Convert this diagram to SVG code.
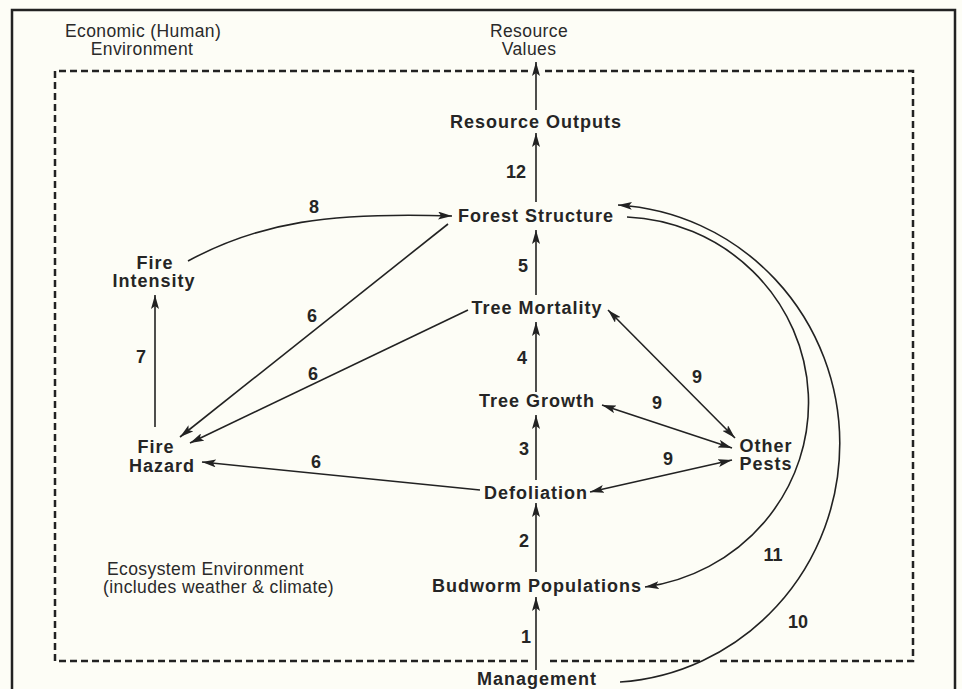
<svg xmlns="http://www.w3.org/2000/svg" width="962" height="689" viewBox="0 0 962 689">
<style>
.bg{fill:#fdfdf6}
.node{font-family:"Liberation Sans",Arial,sans-serif;font-size:18px;font-weight:bold;letter-spacing:1px;fill:#252525;text-anchor:middle}
.num{font-family:"Liberation Sans",Arial,sans-serif;font-size:18px;font-weight:bold;fill:#252525;text-anchor:middle}
.env{font-family:"Liberation Sans",Arial,sans-serif;font-size:17.5px;letter-spacing:0.4px;fill:#2a2a2a}
.mid{text-anchor:middle}
.frame{fill:none;stroke:#222;stroke-width:2.5}
.dash{fill:none;stroke:#222;stroke-width:2.5;stroke-dasharray:7 4}
.c{fill:none;stroke:#222;stroke-width:1.6}
.a{marker-end:url(#ah)}
.b{marker-start:url(#ah);marker-end:url(#ah)}
</style>
<defs>
<marker id="ah" markerUnits="userSpaceOnUse" markerWidth="15" markerHeight="8" refX="14" refY="4" orient="auto-start-reverse">
<path d="M0,0 L14,4 L0,8 L3,4 z" fill="#222"/>
</marker>
</defs>
<rect class="bg" x="0" y="0" width="962" height="689"/>
<g id="frame">
<path class="frame" d="M12,689 V10 H955 V689"/>
<path class="dash" d="M55,661 V71 H528 M545,71 H913 V661 H720 M700,661 H547 M528,661 H55"/>
</g>
<g id="env-labels">
<text class="env" x="65" y="37">Economic (Human)</text>
<text class="env mid" x="142" y="55">Environment</text>
<text class="env" x="107" y="575">Ecosystem Environment</text>
<text class="env" x="103" y="593">(includes weather &amp; climate)</text>
</g>
<g id="connectors">
<path class="c a" d="M536,110 V62"/>
<path class="c a" d="M536,202 V133"/>
<path class="c a" d="M536,295 V230"/>
<path class="c a" d="M536,392 V322"/>
<path class="c a" d="M536,480 V415"/>
<path class="c a" d="M536,572 V503"/>
<path class="c a" d="M536,670 V597"/>
<path class="c a" d="M155,427 V295"/>
<path class="c a" d="M188,261 C260,222 330,212 452,216"/>
<path class="c a" d="M448,224 L180,437"/>
<path class="c a" d="M468,310 L190,443"/>
<path class="c a" d="M480,490 L202,462"/>
<path class="c b" d="M608,310 L735,438"/>
<path class="c b" d="M602,405 L732,448"/>
<path class="c b" d="M590,492 L732,460"/>
<path class="c a" d="M627,217 A190,186 0 0 1 645,587"/>
<path class="c a" d="M620,682 A236,239 0 0 0 618,205"/>
<text class="num" x="516" y="178">12</text>
<text class="num" x="523" y="272">5</text>
<text class="num" x="522" y="364">4</text>
<text class="num" x="524" y="455">3</text>
<text class="num" x="524" y="547">2</text>
<text class="num" x="526" y="643">1</text>
<text class="num" x="141" y="363">7</text>
<text class="num" x="314" y="213">8</text>
<text class="num" x="312" y="322">6</text>
<text class="num" x="313" y="380">6</text>
<text class="num" x="316" y="468">6</text>
<text class="num" x="697" y="383">9</text>
<text class="num" x="657" y="409">9</text>
<text class="num" x="668" y="465">9</text>
<text class="num" x="773" y="561">11</text>
<text class="num" x="798" y="628">10</text>
</g>
<g id="resource-values"><text class="env mid" x="529" y="37">Resource</text><text class="env mid" x="529" y="55">Values</text></g>
<g id="resource-outputs"><text class="node" x="536" y="128">Resource Outputs</text></g>
<g id="forest-structure"><text class="node" x="536" y="222">Forest Structure</text></g>
<g id="tree-mortality"><text class="node" x="537" y="314">Tree Mortality</text></g>
<g id="tree-growth"><text class="node" x="537" y="407">Tree Growth</text></g>
<g id="defoliation"><text class="node" x="536" y="499">Defoliation</text></g>
<g id="budworm-populations"><text class="node" x="537" y="592">Budworm Populations</text></g>
<g id="management"><text class="node" x="537" y="685">Management</text></g>
<g id="fire-intensity"><text class="node" x="155" y="269">Fire</text><text class="node" x="154" y="287">Intensity</text></g>
<g id="fire-hazard"><text class="node" x="156" y="453">Fire</text><text class="node" x="162" y="472">Hazard</text></g>
<g id="other-pests"><text class="node" x="766" y="452">Other</text><text class="node" x="766" y="470">Pests</text></g>
</svg>
